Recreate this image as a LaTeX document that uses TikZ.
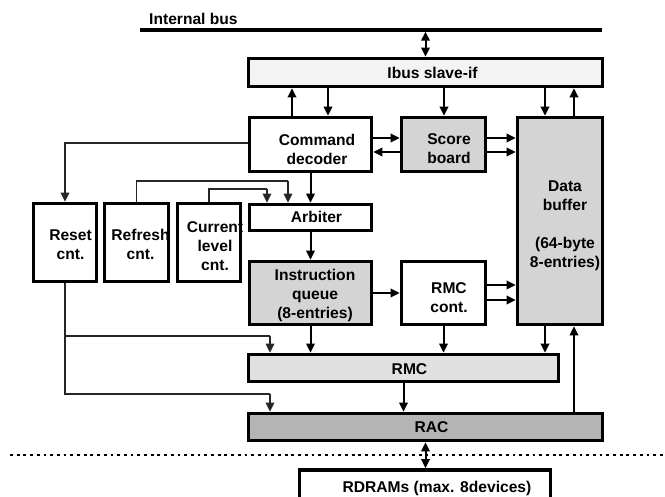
\documentclass[tikz,border=0pt]{standalone}
\usepackage{fontspec}
\setmainfont{Liberation Sans}
\usetikzlibrary{arrows.meta}
\definecolor{ibusF}{RGB}{243,243,243}
\definecolor{grayF}{RGB}{212,212,212}
\definecolor{rmcF}{RGB}{224,224,224}
\definecolor{racF}{RGB}{180,180,180}
\begin{document}
\begin{tikzpicture}[x=1pt,y=-1pt,
  box/.style={draw, line width=3.7pt, inner sep=0pt, rectangle},
  lbl/.style={font=\fontsize{15.6}{19}\selectfont\bfseries, align=center, inner sep=0pt},
  arr/.style={line width=2pt, -{Triangle[length=9pt,width=8.5pt]}},
  dbl/.style={line width=2pt, {Triangle[length=9pt,width=8.5pt]}-{Triangle[length=9pt,width=8.5pt]}},
  thinarr/.style={line width=1.3pt, black!85, -{Triangle[length=9pt,width=8.5pt]}},
  thinln/.style={line width=1.3pt, black!85}]
\useasboundingbox (0,0) rectangle (665,497);
\clip (0,0) rectangle (665,497);

% x and y guide coordinates
\coordinate (x267) at (267,0);
\coordinate (x270) at (270,0);
\coordinate (x288) at (288,0);
\coordinate (x292) at (292,0);
\coordinate (x328) at (328,0);
\coordinate (x444) at (444,0);
\coordinate (x545) at (545,0);
\coordinate (x574) at (574,0);
\coordinate (y138) at (0,138);
\coordinate (y143) at (0,143);
\coordinate (y152) at (0,152);
\coordinate (y181) at (0,181);
\coordinate (y189) at (0,189);
\coordinate (y285) at (0,285);
\coordinate (y300) at (0,300);
\coordinate (y336) at (0,336);
\coordinate (y394) at (0,394);

% internal bus
\node[lbl, anchor=base west] (busT) at (149,25) {Internal bus};
\coordinate (busL) at (140,30);
\coordinate (busR) at (602,30);
\draw[line width=3.5pt] (busL) -- (busR);

% dotted separator
\coordinate (dotL) at (10,455);
\coordinate (dotR) at (668,455);
\draw[line width=2.6pt, dash pattern=on 2.8pt off 3.9pt] (dotL) -- (dotR);

% boxes
\node[box, fill=ibusF, minimum width=354pt, minimum height=28pt] (ibus) at (425.5,72.5) {};
\node[box, fill=white, minimum width=122pt, minimum height=54pt] (cmd) at (310.5,144.5) {};
\node[box, fill=grayF, minimum width=84pt, minimum height=54pt] (score) at (443.5,144.5) {};
\node[box, fill=grayF, minimum width=85pt, minimum height=207pt] (data) at (560,221) {};
\node[box, fill=white, minimum width=63pt, minimum height=78pt] (reset) at (65,242.5) {};
\node[box, fill=white, minimum width=64pt, minimum height=78pt] (refresh) at (136.5,242.5) {};
\node[box, fill=white, minimum width=63pt, minimum height=78pt] (current) at (209,242.5) {};
\node[box, fill=white, minimum width=122pt, minimum height=26pt] (arb) at (310.5,217.5) {};
\node[box, fill=grayF, minimum width=122pt, minimum height=63pt] (iq) at (310.5,293) {};
\node[box, fill=white, minimum width=84pt, minimum height=63pt] (rmcc) at (443.5,293) {};
\node[box, fill=rmcF, minimum width=310pt, minimum height=27pt] (rmc) at (403.5,368) {};
\node[box, fill=racF, minimum width=354pt, minimum height=27pt] (rac) at (425.5,427) {};
\node[box, fill=white, minimum width=251pt, minimum height=40pt] (rdram) at (425,490) {};

% texts
\node[lbl, anchor=base] (ibusT) at (432.5,79) {Ibus slave-if};
\node[lbl] (cmdT) at (317,149.5) {Command\\decoder};
\node[lbl] (scoreT) at (449,149) {Score\\board};
\node[lbl] (dataT) at (565,225.5) {Data\\buffer\\[19pt](64-byte\\8-entries)};
\node[lbl] (resetT) at (70.5,244.5) {Reset\\cnt.};
\node[lbl] (refreshT) at (140.5,244.5) {Refresh\\cnt.};
\node[lbl] (currentT) at (215,246) {Current\\level\\cnt.};
\node[lbl, anchor=base] (arbT) at (316.5,223) {Arbiter};
\node[lbl] (iqT) at (315,295) {Instruction\\queue\\(8-entries)};
\node[lbl] (rmccT) at (449,298) {RMC\\cont.};
\node[lbl, anchor=base] (rmcT) at (409.5,375) {RMC};
\node[lbl, anchor=base] (racT) at (431.5,433) {RAC};
\node[lbl, anchor=base] (rdramT) at (437,493) {RDRAMs (max. 8devices)};

% connectors
\draw[dbl, shorten <=1.75pt] (ibus.north |- busL) -- (ibus.north);
\draw[arr] (x292 |- cmd.north) -- (x292 |- ibus.south);
\draw[arr] (x328 |- ibus.south) -- (x328 |- cmd.north);
\draw[arr] (x444 |- ibus.south) -- (x444 |- score.north);
\draw[arr] (x545 |- ibus.south) -- (x545 |- data.north);
\draw[arr] (x574 |- data.north) -- (x574 |- ibus.south);

\draw[arr] (y138 -| cmd.east) -- (y138 -| score.west);
\draw[arr] (y152 -| score.west) -- (y152 -| cmd.east);
\draw[arr] (y138 -| score.east) -- (y138 -| data.west);
\draw[arr] (y152 -| score.east) -- (y152 -| data.west);

\draw[arr] (cmd.south) -- (arb.north);
\draw[thinarr] (y143 -| cmd.west) -| (reset.north);
\draw[thinln] (refresh.north) |- (x288 |- y181);
\draw[thinarr] (x288 |- y181) -- (x288 |- arb.north);
\draw[thinln] (current.north) |- (x267 |- y189);
\draw[thinarr] (x267 |- y189) -- (x267 |- arb.north);

\draw[arr] (arb.south) -- (iq.north);
\draw[arr] (iq.east) -- (rmcc.west);
\draw[arr] (y285 -| rmcc.east) -- (y285 -| data.west);
\draw[arr] (y300 -| rmcc.east) -- (y300 -| data.west);

\draw[arr] (iq.south) -- (iq.south |- rmc.north);
\draw[arr] (rmcc.south) -- (rmcc.south |- rmc.north);
\draw[arr] (x545 |- data.south) -- (x545 |- rmc.north);
\draw[arr] (x574 |- rac.north) -- (x574 |- data.south);
\draw[arr] (rmc.south) -- (rmc.south |- rac.north);

\draw[thinln] (reset.south) |- (x270 |- y394);
\draw[thinarr] (x270 |- y394) -- (x270 |- rac.north);
\draw[thinln] (reset.south |- y336) -- (x270 |- y336);
\draw[thinarr] (x270 |- y336) -- (x270 |- rmc.north);

\draw[dbl] (rac.south) -- (rac.south |- rdram.north);
\end{tikzpicture}
\end{document}
